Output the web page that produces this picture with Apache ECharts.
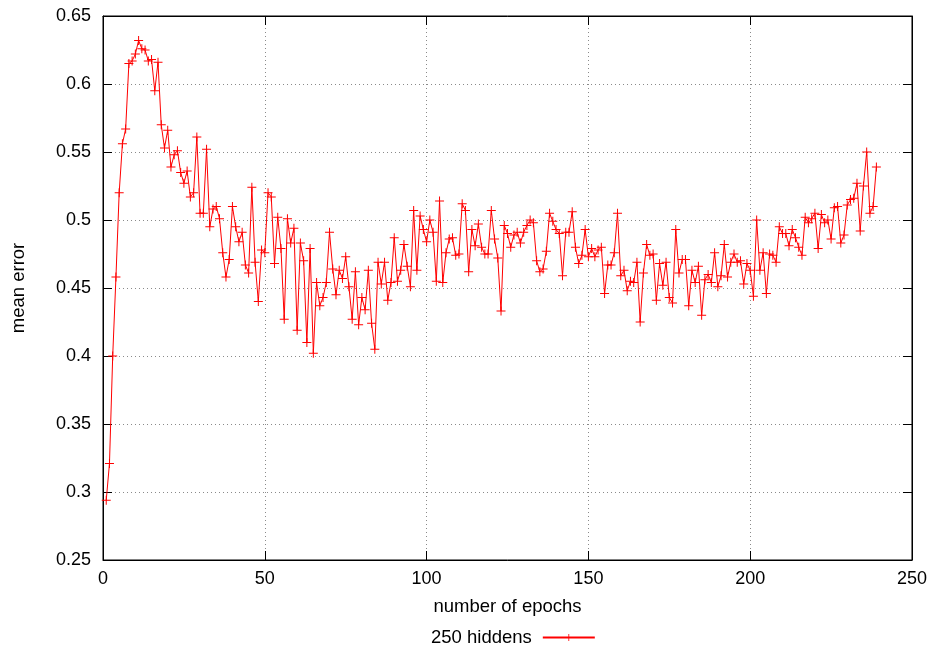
<!DOCTYPE html>
<html>
<head>
<meta charset="utf-8">
<title>mean error per epoch</title>
<script src="https://cdn.jsdelivr.net/npm/echarts@6/dist/echarts.min.js"></script>
<style>
  html, body { margin: 0; padding: 0; background: #fff; }
  #chart { width: 930px; height: 655px; }
</style>
</head>
<body>
<div id="chart"></div>
<script>
// Training run: mean error recorded once per epoch, starting at epoch 1.
const seriesName = '250 hiddens';
const firstEpoch = 1;
const meanError = [
  0.294, 0.321, 0.400, 0.458, 0.520, 0.556, 0.567, 0.615, 0.617, 0.622,
  0.632, 0.626, 0.625, 0.617, 0.618, 0.595, 0.616, 0.570, 0.553, 0.566,
  0.539, 0.548, 0.551, 0.535, 0.527, 0.536, 0.517, 0.520, 0.561, 0.505,
  0.505, 0.552, 0.495, 0.508, 0.510, 0.501, 0.476, 0.458, 0.471, 0.510,
  0.495, 0.484, 0.491, 0.467, 0.461, 0.524, 0.469, 0.440, 0.478, 0.476,
  0.520, 0.517, 0.468, 0.502, 0.479, 0.427, 0.501, 0.483, 0.494, 0.419,
  0.483, 0.470, 0.410, 0.479, 0.402, 0.454, 0.437, 0.443, 0.454, 0.491,
  0.464, 0.445, 0.463, 0.457, 0.473, 0.451, 0.427, 0.462, 0.423, 0.443,
  0.434, 0.463, 0.424, 0.405, 0.469, 0.453, 0.469, 0.441, 0.454, 0.487,
  0.455, 0.463, 0.482, 0.466, 0.451, 0.507, 0.463, 0.503, 0.493, 0.484,
  0.500, 0.491, 0.455, 0.514, 0.454, 0.476, 0.486, 0.487, 0.474, 0.475,
  0.512, 0.507, 0.462, 0.493, 0.481, 0.497, 0.480, 0.475, 0.475, 0.507,
  0.486, 0.472, 0.433, 0.496, 0.490, 0.480, 0.489, 0.491, 0.483, 0.491,
  0.496, 0.500, 0.498, 0.470, 0.462, 0.464, 0.477, 0.505, 0.499, 0.493,
  0.490, 0.459, 0.491, 0.491, 0.506, 0.480, 0.468, 0.474, 0.493, 0.473,
  0.479, 0.473, 0.478, 0.480, 0.446, 0.467, 0.467, 0.476, 0.505, 0.459,
  0.463, 0.448, 0.455, 0.454, 0.469, 0.425, 0.461, 0.482, 0.474, 0.475,
  0.441, 0.468, 0.452, 0.469, 0.443, 0.439, 0.493, 0.461, 0.471, 0.471,
  0.437, 0.463, 0.454, 0.466, 0.430, 0.456, 0.460, 0.454, 0.476, 0.451,
  0.459, 0.482, 0.458, 0.469, 0.475, 0.469, 0.470, 0.453, 0.468, 0.463,
  0.444, 0.500, 0.463, 0.476, 0.446, 0.475, 0.474, 0.469, 0.495, 0.490,
  0.490, 0.481, 0.493, 0.487, 0.480, 0.474, 0.502, 0.498, 0.501, 0.505,
  0.479, 0.504, 0.498, 0.500, 0.486, 0.509, 0.510, 0.483, 0.489, 0.511,
  0.515, 0.516, 0.527, 0.492, 0.525, 0.550, 0.505, 0.510, 0.539
];
const xTicks = { min: 0, max: 250, interval: 50 };
const yTicks = { min: 0.25, max: 0.65, interval: 0.05 };

const points = meanError.map((v, i) => [firstEpoch + i, v]);

const font = 'Liberation Sans, Arial, Helvetica, sans-serif';
const tickFont = { fontFamily: font, fontSize: 18, color: '#000' };
const titleFont = { fontFamily: font, fontSize: 18.5, color: '#000' };
const plusMark = 'path://M0,4L9,4L9,5L0,5Z M4,0L5,0L5,9L4,9Z';
const dotted = { color: '#8a8a8a', width: 1, type: [1, 3] };
const frameLine = { show: true, onZero: false, lineStyle: { color: '#000', width: 1 } };
const innerTicks = { show: true, inside: true, length: 9, lineStyle: { color: '#000' } };

function yLabel(v) {
  return (Math.round(v * 100) / 100).toString();
}

const chart = echarts.init(document.getElementById('chart'), null, { renderer: 'canvas' });
chart.setOption({
  backgroundColor: '#ffffff',
  animation: false,
  grid: {
    left: 103, right: 18, top: 16, bottom: 95,
    show: true, borderColor: '#000', borderWidth: 1, backgroundColor: 'transparent'
  },
  legend: {
    data: [seriesName],
    left: 426, top: 623,
    align: 'right',
    itemWidth: 52, itemHeight: 9,
    textStyle: Object.assign({ padding: [0, 6, 0, 0] }, titleFont)
  },
  xAxis: [
    {
      type: 'value', min: xTicks.min, max: xTicks.max, interval: xTicks.interval,
      name: 'number of epochs', nameLocation: 'middle', nameGap: 37,
      nameTextStyle: titleFont,
      axisLine: frameLine,
      axisTick: innerTicks,
      axisLabel: Object.assign({ margin: 10 }, tickFont),
      splitLine: { show: true, lineStyle: dotted }
    },
    {
      type: 'value', position: 'top', min: xTicks.min, max: xTicks.max, interval: xTicks.interval,
      axisLine: frameLine,
      axisTick: innerTicks,
      axisLabel: { show: false },
      splitLine: { show: false }
    }
  ],
  yAxis: [
    {
      type: 'value', min: yTicks.min, max: yTicks.max, interval: yTicks.interval,
      name: 'mean error', nameLocation: 'middle', nameGap: 75, nameRotate: 90,
      nameTextStyle: titleFont,
      axisLine: frameLine,
      axisTick: innerTicks,
      axisLabel: Object.assign({ margin: 12, formatter: yLabel }, tickFont),
      splitLine: { show: true, lineStyle: dotted }
    },
    {
      type: 'value', position: 'right', min: yTicks.min, max: yTicks.max, interval: yTicks.interval,
      axisLine: frameLine,
      axisTick: innerTicks,
      axisLabel: { show: false },
      splitLine: { show: false }
    }
  ],
  series: [
    {
      name: seriesName,
      type: 'line',
      data: points,
      symbol: plusMark,
      symbolSize: 9,
      showAllSymbol: true,
      lineStyle: { color: '#ff0000', width: 1 },
      itemStyle: { color: '#ff0000' },
      emphasis: { disabled: true }
    }
  ]
});
</script>
</body>
</html>
